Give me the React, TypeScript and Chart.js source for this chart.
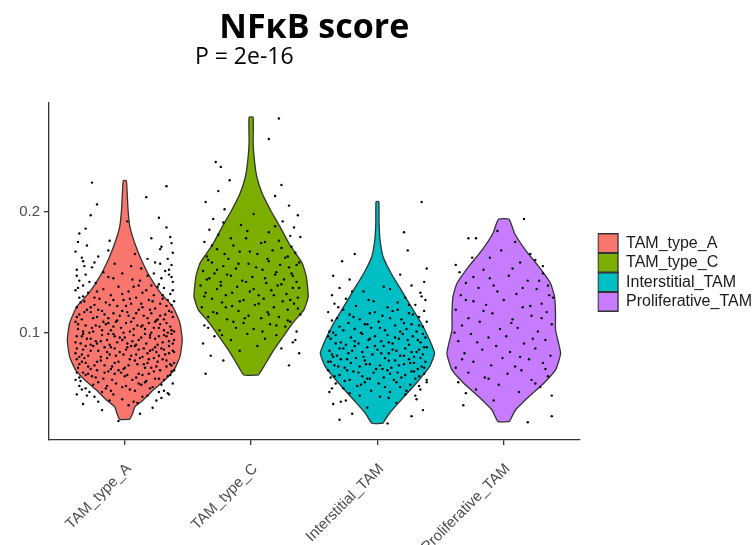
import React, { useEffect, useRef } from 'react';
import { Chart, registerables } from 'chart.js';

Chart.register(...registerables);

const categories = ['TAM_type_A', 'TAM_type_C', 'Interstitial_TAM', 'Proliferative_TAM'];
const colors = ['#F8766D', '#7CAE00', '#00BFC4', '#C77CFF'];
const yTicks = [0.1, 0.2];
const titleText = 'NFκB score';
const pLabel = 'P = 2e-16';
const pLabelX = 1.555;

// violin outlines: score values and half-widths (category units)
const aViolinY = [0.0284, 0.0334, 0.0388, 0.0444, 0.0526, 0.0609, 0.0692, 0.0802, 0.0937, 0.1078, 0.1215, 0.1326, 0.1463, 0.1601, 0.1739, 0.1876, 0.2013, 0.2152, 0.2256];
const aViolinW = [0.040, 0.063, 0.080, 0.146, 0.225, 0.317, 0.390, 0.437, 0.455, 0.437, 0.380, 0.285, 0.198, 0.132, 0.079, 0.040, 0.026, 0.019, 0.012];
const cViolinY = [0.0650, 0.0719, 0.0857, 0.0995, 0.1105, 0.1188, 0.1298, 0.1463, 0.1574, 0.1656, 0.1739, 0.1876, 0.2014, 0.2152, 0.2289, 0.2427, 0.2565, 0.2780];
const cViolinW = [0.058, 0.100, 0.180, 0.272, 0.350, 0.418, 0.452, 0.437, 0.405, 0.352, 0.299, 0.228, 0.153, 0.087, 0.045, 0.026, 0.016, 0.016];
const iViolinY = [0.0251, 0.0334, 0.0444, 0.0582, 0.0719, 0.0830, 0.0940, 0.1078, 0.1215, 0.1353, 0.1491, 0.1628, 0.1766, 0.1904, 0.2083];
const iViolinW = [0.044, 0.095, 0.188, 0.307, 0.413, 0.452, 0.413, 0.347, 0.267, 0.188, 0.108, 0.045, 0.021, 0.013, 0.011];
const pViolinY = [0.0265, 0.0361, 0.0471, 0.0582, 0.0692, 0.0830, 0.1022, 0.1160, 0.1298, 0.1408, 0.1545, 0.1683, 0.1822, 0.1937];
const pViolinW = [0.045, 0.093, 0.198, 0.317, 0.410, 0.450, 0.410, 0.410, 0.402, 0.370, 0.278, 0.172, 0.085, 0.042];

// jittered cells: [horizontal jitter, score]
const aPoints = [
  [-0.05,0.027],[0.12,0.033],[-0.18,0.036],[0.22,0.038],
  [-0.33,0.041],[0.07,0.043],[-0.12,0.044],[0.29,0.046],[-0.24,0.047],[0.18,0.048],[-0.02,0.045],[0.35,0.049],[-0.38,0.049],[0.10,0.042],
  [-0.28,0.051],[0.31,0.052],[0.04,0.053],[-0.15,0.054],[0.22,0.055],[-0.36,0.056],[0.13,0.057],[-0.07,0.058],[0.38,0.058],[-0.21,0.059],[0.27,0.051],[-0.31,0.054],[0.01,0.056],[0.16,0.059],[-0.11,0.052],
  [-0.39,0.061],[0.24,0.062],[-0.17,0.062],[0.09,0.063],[0.34,0.064],[-0.26,0.064],[0.02,0.065],[-0.08,0.066],[0.19,0.066],[-0.33,0.067],[0.37,0.068],[-0.13,0.068],[0.28,0.069],[-0.22,0.069],[0.06,0.061],[-0.36,0.063],[0.14,0.065],[-0.03,0.067],[0.31,0.061],[-0.29,0.066],
  [-0.37,0.071],[0.21,0.071],[-0.10,0.072],[0.33,0.072],[0.03,0.073],[-0.24,0.073],[0.15,0.074],[-0.31,0.075],[0.39,0.075],[-0.05,0.076],[0.26,0.076],[-0.19,0.077],[0.08,0.077],[-0.38,0.078],[0.30,0.078],[-0.14,0.079],[0.12,0.079],[-0.27,0.070],[0.36,0.074],[-0.01,0.070],[0.19,0.078],[-0.34,0.076],
  [0.05,0.081],[-0.29,0.081],[0.32,0.082],[-0.12,0.082],[0.18,0.083],[-0.39,0.083],[-0.04,0.084],[0.25,0.084],[-0.21,0.085],[0.38,0.085],[0.11,0.086],[-0.33,0.086],[-0.08,0.087],[0.29,0.087],[-0.16,0.088],[0.02,0.088],[0.35,0.089],[-0.25,0.089],[0.14,0.080],[-0.36,0.080],[0.22,0.086],[-0.01,0.082],[0.08,0.089],
  [-0.35,0.091],[0.17,0.091],[-0.06,0.092],[0.30,0.092],[-0.23,0.093],[0.06,0.093],[0.39,0.094],[-0.14,0.094],[0.24,0.095],[-0.30,0.095],[0.00,0.096],[0.13,0.096],[-0.38,0.097],[0.33,0.097],[-0.18,0.098],[0.20,0.098],[-0.09,0.099],[0.37,0.099],[-0.27,0.090],[0.09,0.090],[-0.02,0.094],[0.27,0.097],[-0.33,0.099],
  [0.04,0.101],[-0.25,0.101],[0.31,0.102],[-0.11,0.102],[0.16,0.103],[-0.37,0.103],[0.23,0.104],[-0.03,0.104],[-0.20,0.105],[0.36,0.105],[0.10,0.106],[-0.31,0.106],[0.28,0.107],[-0.15,0.107],[0.01,0.108],[0.19,0.108],[-0.39,0.109],[-0.07,0.109],[0.34,0.100],[-0.28,0.100],[0.13,0.105],[-0.17,0.109],
  [0.26,0.111],[-0.34,0.111],[0.07,0.112],[-0.13,0.112],[0.38,0.113],[-0.22,0.113],[0.15,0.114],[-0.04,0.114],[0.32,0.115],[-0.36,0.115],[0.21,0.116],[-0.09,0.116],[0.02,0.117],[-0.27,0.117],[0.35,0.118],[-0.18,0.118],[0.11,0.119],[-0.30,0.119],[0.25,0.110],
  [-0.38,0.121],[0.14,0.121],[-0.06,0.122],[0.33,0.122],[-0.24,0.123],[0.05,0.124],[0.28,0.124],[-0.15,0.125],[0.39,0.126],[-0.32,0.126],[0.19,0.127],[-0.01,0.127],[-0.20,0.128],[0.30,0.128],[0.09,0.129],[-0.36,0.129],
  [0.23,0.131],[-0.11,0.131],[0.36,0.132],[-0.29,0.133],[0.03,0.134],[-0.39,0.135],[0.17,0.135],[-0.17,0.136],[0.31,0.137],[-0.05,0.138],[0.26,0.138],[-0.33,0.139],[0.11,0.139],
  [-0.23,0.141],[0.38,0.142],[-0.36,0.143],[0.06,0.144],[0.29,0.145],[-0.13,0.146],[0.18,0.147],[-0.31,0.148],[0.35,0.148],[-0.02,0.149],
  [0.32,0.151],[-0.38,0.152],[0.13,0.153],[-0.26,0.154],[0.37,0.156],[-0.08,0.157],[0.24,0.158],[-0.33,0.159],
  [0.34,0.161],[-0.21,0.163],[0.08,0.165],[-0.39,0.167],[0.28,0.169],
  [-0.30,0.172],[0.37,0.174],[-0.12,0.176],[0.21,0.178],
  [-0.36,0.182],[0.33,0.187],
  [0.02,0.192],[-0.27,0.197],
  [-0.22,0.206],[0.17,0.212],[-0.26,0.224],[0.33,0.221],
  [0.03,0.040],[-0.21,0.043],[0.25,0.044],[-0.30,0.048],[0.14,0.047],[-0.09,0.049],
  [0.34,0.050],[-0.18,0.051],[0.08,0.052],[-0.34,0.053],[0.20,0.054],[-0.02,0.055],[0.29,0.057],[-0.25,0.057],[0.11,0.058],[-0.14,0.056],
  [-0.35,0.060],[0.17,0.060],[-0.10,0.061],[0.27,0.062],[-0.23,0.063],[0.00,0.064],[0.36,0.065],[-0.31,0.065],[0.11,0.066],[-0.16,0.067],[0.23,0.068],[-0.05,0.069],[0.39,0.069],[-0.38,0.067],
  [0.00,0.071],[-0.29,0.072],[0.25,0.072],[-0.16,0.073],[0.37,0.073],[0.10,0.074],[-0.36,0.074],[-0.08,0.075],[0.18,0.075],[-0.22,0.076],[0.33,0.077],[0.04,0.078],[-0.32,0.079],[0.23,0.079],[-0.11,0.070],[0.16,0.071],
  [-0.19,0.080],[0.27,0.081],[-0.07,0.081],[0.09,0.082],[-0.34,0.082],[0.35,0.083],[-0.14,0.084],[0.20,0.085],[-0.27,0.085],[0.01,0.086],[0.31,0.086],[-0.38,0.087],[0.15,0.087],[-0.11,0.088],[0.24,0.088],[-0.31,0.089],[0.05,0.089],[0.39,0.084],
  [0.26,0.090],[-0.12,0.090],[0.02,0.091],[-0.39,0.092],[0.35,0.093],[-0.19,0.093],[0.11,0.094],[-0.27,0.095],[0.20,0.096],[-0.04,0.096],[-0.34,0.097],[0.31,0.098],[0.07,0.098],[-0.13,0.099],[0.16,0.099],[-0.22,0.091],[0.38,0.091],[-0.08,0.097],
  [-0.01,0.100],[0.21,0.100],[-0.33,0.101],[0.37,0.102],[-0.18,0.102],[0.07,0.103],[-0.26,0.104],[0.27,0.104],[-0.09,0.105],[0.14,0.106],[-0.37,0.107],[0.33,0.108],[-0.13,0.108],[0.05,0.109],[0.24,0.109],[-0.23,0.106],[0.39,0.101],
  [-0.06,0.110],[0.31,0.111],[-0.25,0.112],[0.18,0.112],[-0.38,0.113],[0.03,0.114],[0.28,0.114],[-0.16,0.115],[0.09,0.116],[-0.32,0.117],[0.37,0.117],[-0.02,0.118],[0.20,0.119],[-0.21,0.119],
  [0.24,0.120],[-0.27,0.121],[0.01,0.122],[-0.12,0.123],[0.37,0.123],[0.13,0.124],[-0.35,0.125],[0.22,0.126],[-0.09,0.127],[0.34,0.127],[-0.24,0.129],[0.04,0.128],
  [-0.33,0.130],[0.30,0.131],[-0.02,0.132],[0.14,0.133],[-0.22,0.134],[0.38,0.135],[-0.37,0.137],[0.07,0.138],[0.21,0.139],
  [0.27,0.140],[-0.28,0.142],[0.12,0.143],[-0.09,0.145],[0.37,0.146],[-0.38,0.147],[0.23,0.149],
  [-0.17,0.150],[0.35,0.152],[-0.32,0.155],[0.05,0.155],[0.28,0.157],[-0.24,0.158],
  [0.18,0.161],[-0.34,0.162],[0.38,0.166],[-0.13,0.168],
  [0.29,0.171],[-0.37,0.175],[0.36,0.179],[-0.31,0.186],[0.27,0.195],
];
const cPoints = [
  [-0.36,0.066],[0.30,0.073],[-0.22,0.077],
  [-0.32,0.081],[0.38,0.083],[-0.09,0.085],[0.24,0.087],[0.05,0.089],
  [-0.38,0.091],[0.33,0.092],[-0.16,0.094],[0.11,0.095],[-0.29,0.097],[0.20,0.098],[-0.03,0.099],
  [0.36,0.101],[-0.25,0.102],[0.02,0.103],[-0.12,0.104],[0.27,0.105],[-0.37,0.106],[0.15,0.107],[-0.06,0.108],[0.31,0.109],
  [-0.19,0.111],[0.08,0.112],[-0.34,0.113],[0.22,0.113],[-0.02,0.114],[0.39,0.115],[-0.27,0.116],[0.13,0.117],[-0.10,0.118],[0.29,0.119],
  [-0.39,0.121],[0.18,0.121],[-0.15,0.122],[0.03,0.123],[0.34,0.124],[-0.23,0.125],[0.25,0.126],[-0.06,0.127],[0.10,0.128],[-0.31,0.128],[0.37,0.129],
  [-0.20,0.131],[0.06,0.131],[0.28,0.132],[-0.36,0.133],[-0.01,0.134],[0.16,0.135],[-0.27,0.136],[0.33,0.137],[-0.11,0.138],[0.21,0.139],[-0.40,0.139],
  [0.12,0.141],[-0.24,0.142],[0.36,0.142],[-0.07,0.143],[0.26,0.144],[-0.33,0.145],[0.01,0.146],[-0.16,0.147],[0.19,0.148],[0.32,0.149],[-0.29,0.149],
  [-0.38,0.151],[0.09,0.152],[-0.12,0.153],[0.30,0.154],[-0.22,0.155],[0.23,0.156],[-0.02,0.157],[0.38,0.158],[-0.31,0.158],[0.14,0.159],
  [-0.18,0.161],[0.27,0.162],[-0.35,0.163],[0.05,0.165],[0.35,0.166],[-0.09,0.167],[0.17,0.168],[-0.27,0.169],
  [0.32,0.171],[-0.14,0.172],[0.08,0.174],[-0.37,0.175],[0.22,0.176],[-0.04,0.178],[0.39,0.179],
  [-0.26,0.181],[0.14,0.183],[-0.33,0.185],[0.34,0.187],[-0.08,0.189],
  [0.25,0.192],[-0.30,0.194],[0.37,0.197],[0.02,0.198],
  [-0.21,0.202],[0.30,0.205],[-0.36,0.208],
  [0.19,0.213],[-0.26,0.217],
  [-0.17,0.226],[0.24,0.222],
  [-0.28,0.241],[-0.24,0.237],
  [0.14,0.260],[0.22,0.277],
  [0.35,0.094],[-0.23,0.098],[0.09,0.101],[-0.34,0.104],[0.20,0.106],[-0.14,0.109],[0.29,0.110],[-0.05,0.112],[0.14,0.115],[-0.30,0.117],
  [0.37,0.120],[-0.20,0.121],[0.06,0.124],[-0.09,0.126],[0.31,0.127],[-0.37,0.130],[0.18,0.131],[-0.15,0.133],[0.02,0.136],[0.38,0.137],
  [-0.24,0.139],[0.24,0.140],[-0.04,0.142],[-0.35,0.144],[0.11,0.145],[0.33,0.147],[-0.19,0.148],[0.20,0.150],[-0.27,0.152],[0.04,0.154],
  [0.36,0.156],[-0.10,0.157],[-0.34,0.160],[0.13,0.161],[0.29,0.163],[-0.21,0.165],[-0.01,0.167],[0.24,0.170],[-0.31,0.172],[0.11,0.175],
  [-0.16,0.178],[0.31,0.180],[-0.03,0.184],[0.19,0.188],[-0.22,0.191],
];
const iPoints = [
  [0.08,0.025],[-0.30,0.028],
  [0.27,0.031],[-0.20,0.033],[0.36,0.036],[-0.08,0.038],
  [-0.35,0.041],[0.15,0.042],[-0.25,0.044],[0.31,0.045],[0.02,0.047],[-0.14,0.048],[0.22,0.049],
  [-0.38,0.051],[0.10,0.051],[-0.05,0.052],[0.34,0.053],[-0.27,0.054],[0.18,0.055],[-0.16,0.056],[0.26,0.057],[0.01,0.058],[-0.33,0.058],[0.39,0.059],[-0.10,0.059],
  [0.13,0.061],[-0.22,0.061],[0.30,0.062],[-0.37,0.063],[0.05,0.063],[-0.12,0.064],[0.22,0.065],[-0.30,0.065],[0.37,0.066],[-0.03,0.067],[0.16,0.067],[-0.19,0.068],[0.27,0.068],[-0.39,0.069],[0.08,0.069],[-0.08,0.062],[0.33,0.064],
  [-0.26,0.071],[0.11,0.071],[0.35,0.072],[-0.14,0.072],[0.02,0.073],[-0.34,0.073],[0.21,0.074],[-0.06,0.074],[0.29,0.075],[-0.21,0.075],[0.38,0.076],[-0.39,0.076],[0.14,0.077],[-0.10,0.077],[0.25,0.078],[-0.29,0.078],[0.06,0.079],[-0.17,0.079],[0.32,0.070],[-0.01,0.070],
  [0.18,0.081],[-0.32,0.081],[-0.04,0.082],[0.36,0.082],[0.09,0.083],[-0.23,0.083],[0.27,0.084],[-0.12,0.084],[-0.38,0.085],[0.15,0.085],[0.00,0.086],[0.33,0.086],[-0.27,0.087],[0.22,0.087],[-0.08,0.088],[0.39,0.088],[-0.18,0.089],[0.05,0.089],[-0.35,0.080],[0.29,0.080],
  [-0.15,0.091],[0.12,0.091],[0.34,0.092],[-0.29,0.092],[0.03,0.093],[-0.07,0.094],[0.24,0.094],[-0.37,0.095],[0.17,0.095],[-0.21,0.096],[0.38,0.096],[-0.02,0.097],[0.28,0.097],[-0.33,0.098],[0.08,0.098],[-0.12,0.099],[0.20,0.099],[-0.25,0.090],
  [0.31,0.101],[-0.38,0.101],[0.06,0.102],[-0.18,0.103],[0.23,0.103],[-0.05,0.104],[0.36,0.105],[-0.30,0.105],[0.14,0.106],[-0.10,0.107],[0.27,0.107],[-0.23,0.108],[0.01,0.109],[0.39,0.109],[-0.35,0.100],
  [0.19,0.111],[-0.14,0.111],[-0.32,0.112],[0.33,0.113],[0.04,0.114],[-0.22,0.115],[0.25,0.116],[-0.06,0.116],[-0.39,0.117],[0.12,0.118],[0.37,0.118],[-0.27,0.119],
  [0.08,0.121],[-0.17,0.122],[0.30,0.123],[-0.34,0.124],[0.16,0.125],[-0.03,0.126],[0.38,0.127],[-0.25,0.128],[0.22,0.129],
  [-0.36,0.131],[0.34,0.133],[-0.11,0.134],[0.10,0.136],[-0.30,0.137],[0.27,0.139],
  [0.37,0.142],[-0.22,0.144],[-0.35,0.147],[0.18,0.148],
  [-0.28,0.159],[0.39,0.153],
  [-0.18,0.165],[0.24,0.168],[0.21,0.183],
  [0.35,0.208],
  [-0.29,0.043],[0.09,0.046],[0.30,0.048],
  [-0.22,0.050],[0.23,0.052],[-0.36,0.054],[0.06,0.055],[0.33,0.056],[-0.13,0.057],[0.15,0.059],
  [-0.26,0.060],[0.39,0.061],[-0.06,0.062],[0.19,0.063],[-0.34,0.064],[0.10,0.066],[-0.15,0.067],[0.29,0.068],[-0.24,0.069],
  [0.04,0.070],[0.37,0.071],[-0.31,0.072],[0.17,0.073],[-0.09,0.074],[0.26,0.075],[-0.37,0.076],[0.09,0.077],[-0.24,0.078],[0.34,0.079],
  [-0.11,0.080],[0.21,0.081],[-0.36,0.082],[0.03,0.083],[0.31,0.084],[-0.20,0.085],[0.12,0.086],[-0.30,0.087],[0.37,0.088],[-0.02,0.089],
  [0.25,0.090],[-0.33,0.091],[0.09,0.092],[-0.18,0.093],[0.32,0.094],[-0.06,0.095],[0.14,0.096],[-0.39,0.097],[0.36,0.099],
  [-0.13,0.100],[0.18,0.101],[-0.27,0.102],[0.02,0.104],[0.33,0.106],[-0.08,0.107],[0.21,0.108],
  [-0.36,0.110],[0.10,0.112],[-0.19,0.113],[0.28,0.115],[-0.02,0.117],[0.16,0.119],
  [-0.31,0.121],[0.25,0.123],[-0.07,0.127],[0.35,0.130],[-0.20,0.134],[0.05,0.138],
];
const pPoints = [
  [0.19,0.026],[0.38,0.031],
  [-0.32,0.040],[0.38,0.048],[-0.08,0.044],
  [0.12,0.051],[-0.22,0.053],[0.29,0.055],[-0.04,0.057],[-0.36,0.059],
  [0.22,0.061],[-0.15,0.063],[0.35,0.064],[0.03,0.066],[-0.28,0.067],[0.14,0.069],
  [-0.38,0.071],[0.09,0.072],[-0.10,0.073],[0.31,0.075],[-0.24,0.076],[0.20,0.078],[-0.01,0.079],
  [0.37,0.081],[-0.31,0.083],[0.05,0.084],[-0.17,0.086],[0.25,0.087],[-0.06,0.089],
  [0.16,0.091],[-0.36,0.093],[0.33,0.094],[-0.12,0.096],[0.02,0.097],[-0.26,0.099],
  [0.27,0.101],[-0.03,0.103],[0.11,0.104],[-0.33,0.106],[0.38,0.107],[-0.19,0.109],
  [0.07,0.111],[-0.28,0.112],[0.22,0.114],[-0.09,0.116],[0.34,0.117],[-0.38,0.119],
  [0.15,0.121],[-0.14,0.123],[0.30,0.124],[-0.24,0.126],[0.00,0.127],[0.39,0.129],
  [-0.34,0.131],[0.10,0.132],[-0.05,0.134],[0.26,0.136],[-0.20,0.137],[0.35,0.139],
  [-0.30,0.141],[0.19,0.143],[-0.11,0.145],[0.04,0.147],[0.31,0.149],
  [-0.38,0.156],[0.31,0.155],[-0.16,0.152],[0.13,0.158],
  [-0.25,0.162],[0.21,0.165],[-0.02,0.168],
  [-0.28,0.178],[-0.22,0.178],
  [0.16,0.194],
  [-0.30,0.050],[0.25,0.058],[-0.12,0.062],[0.33,0.070],[-0.33,0.078],[0.13,0.080],[-0.21,0.092],[0.23,0.095],[-0.39,0.100],[0.06,0.108],
  [0.30,0.112],[-0.16,0.118],[0.21,0.122],[-0.30,0.127],[0.36,0.131],[-0.08,0.139],[0.15,0.137],[-0.24,0.146],[0.28,0.143],[-0.35,0.150],
  [0.07,0.153],[0.25,0.160],[-0.11,0.162],[0.09,0.175],[-0.05,0.184],
];

const violinYs = [aViolinY, cViolinY, iViolinY, pViolinY];
const violinWs = [aViolinW, cViolinW, iViolinW, pViolinW];
const groupPoints = [aPoints, cPoints, iPoints, pPoints];

function violinPolygon(center: number, ys: number[], ws: number[]) {
  const right = ys.map((y, i) => ({ x: center + ws[i], y }));
  const left = ys.map((y, i) => ({ x: center - ws[i], y })).reverse();
  return [...right, ...left, right[0]];
}

const pValuePlugin = {
  id: 'pValueLabel',
  afterDraw(chart: any) {
    const { ctx, chartArea } = chart;
    const xs = chart.scales.x;
    ctx.save();
    ctx.font = '23px "Open Sans"';
    ctx.fillStyle = '#000000';
    ctx.textAlign = 'left';
    ctx.textBaseline = 'alphabetic';
    ctx.fillText(pLabel, xs.getPixelForValue(pLabelX), chartArea.top - 39);
    ctx.restore();
  },
};

export default function App() {
  const canvasRef = useRef<HTMLCanvasElement | null>(null);

  useEffect(() => {
    if (!canvasRef.current) return;
    const violinSets = categories.map((name, i) => ({
      type: 'line' as const,
      label: name,
      data: violinPolygon(i + 1, violinYs[i], violinWs[i]),
      backgroundColor: colors[i],
      borderColor: '#333333',
      borderWidth: 1.3,
      fill: 'shape',
      pointRadius: 0,
      pointHoverRadius: 0,
      tension: 0.15,
      order: 2,
    }));
    const pointSets = categories.map((name, i) => ({
      type: 'scatter' as const,
      label: name + ' cells',
      data: groupPoints[i].map(([dx, y]) => ({ x: i + 1 + dx, y })),
      backgroundColor: '#000000',
      borderWidth: 0,
      pointRadius: 1.2,
      pointHoverRadius: 1.2,
      order: 1,
    }));

    const tickFont = { family: '"Liberation Sans", Arial, sans-serif', size: 15 };

    const chart = new Chart(canvasRef.current, {
      type: 'line',
      data: { datasets: [...violinSets, ...pointSets] as any },
      plugins: [pValuePlugin],
      options: {
        animation: false,
        responsive: true,
        maintainAspectRatio: false,
        layout: { padding: { left: 0, right: -7, top: 0, bottom: 0 } },
        plugins: {
          tooltip: { enabled: false },
          title: {
            display: true,
            text: titleText,
            fullSize: false,
            color: '#000000',
            font: { family: '"Open Sans", sans-serif', size: 34, weight: 'bold', lineHeight: 1.2 },
            padding: { top: 7.9, bottom: 54.3 },
          },
          legend: {
            display: true,
            position: 'right',
            maxWidth: 220,
            labels: {
              boxWidth: 20,
              boxHeight: 19,
              padding: 0.5,
              color: '#1a1a1a',
              font: { family: '"Liberation Sans", Arial, sans-serif', size: 16 },
              filter: (item: any) => item.datasetIndex < categories.length,
            },
          },
        },
        scales: {
          x: {
            type: 'linear',
            min: 0.4,
            max: 4.6,
            afterBuildTicks: (scale: any) => {
              scale.ticks = categories.map((_, i) => ({ value: i + 1 }));
            },
            afterFit: (scale: any) => {
              scale.height = 105;
            },
            ticks: {
              autoSkip: false,
              minRotation: 45,
              maxRotation: 45,
              padding: 15,
              labelOffset: 4,
              color: '#4d4d4d',
              font: tickFont,
              callback: (v: any) => categories[Math.round(Number(v)) - 1] ?? '',
            },
            grid: { display: true, drawOnChartArea: false, drawTicks: true, tickLength: 5, color: '#333333', lineWidth: 1.3 },
            border: { display: true, color: '#333333', width: 1.3 },
          },
          y: {
            type: 'linear',
            min: 0.0113,
            max: 0.2898,
            afterBuildTicks: (scale: any) => {
              scale.ticks = yTicks.map((v) => ({ value: v }));
            },
            afterFit: (scale: any) => {
              scale.width = 49;
            },
            ticks: {
              padding: 4,
              color: '#4d4d4d',
              font: tickFont,
              callback: (v: any) => Number(v).toFixed(1),
            },
            grid: { display: true, drawOnChartArea: false, drawTicks: true, tickLength: 5, color: '#333333', lineWidth: 1.3 },
            border: { display: true, color: '#333333', width: 1.3 },
          },
          gap: {
            type: 'linear',
            position: 'right',
            min: 0,
            max: 1,
            display: true,
            grid: { display: false, drawTicks: false },
            border: { display: false },
            ticks: { display: false },
            afterFit: (scale: any) => {
              scale.width = 18;
            },
          },
        },
      } as any,
    });
    return () => chart.destroy();
  }, []);

  return (
    <div style={{ position: 'absolute', left: 0, top: 0, width: '755px', height: '545px', background: '#ffffff' }}>
      <canvas ref={canvasRef} />
    </div>
  );
}
